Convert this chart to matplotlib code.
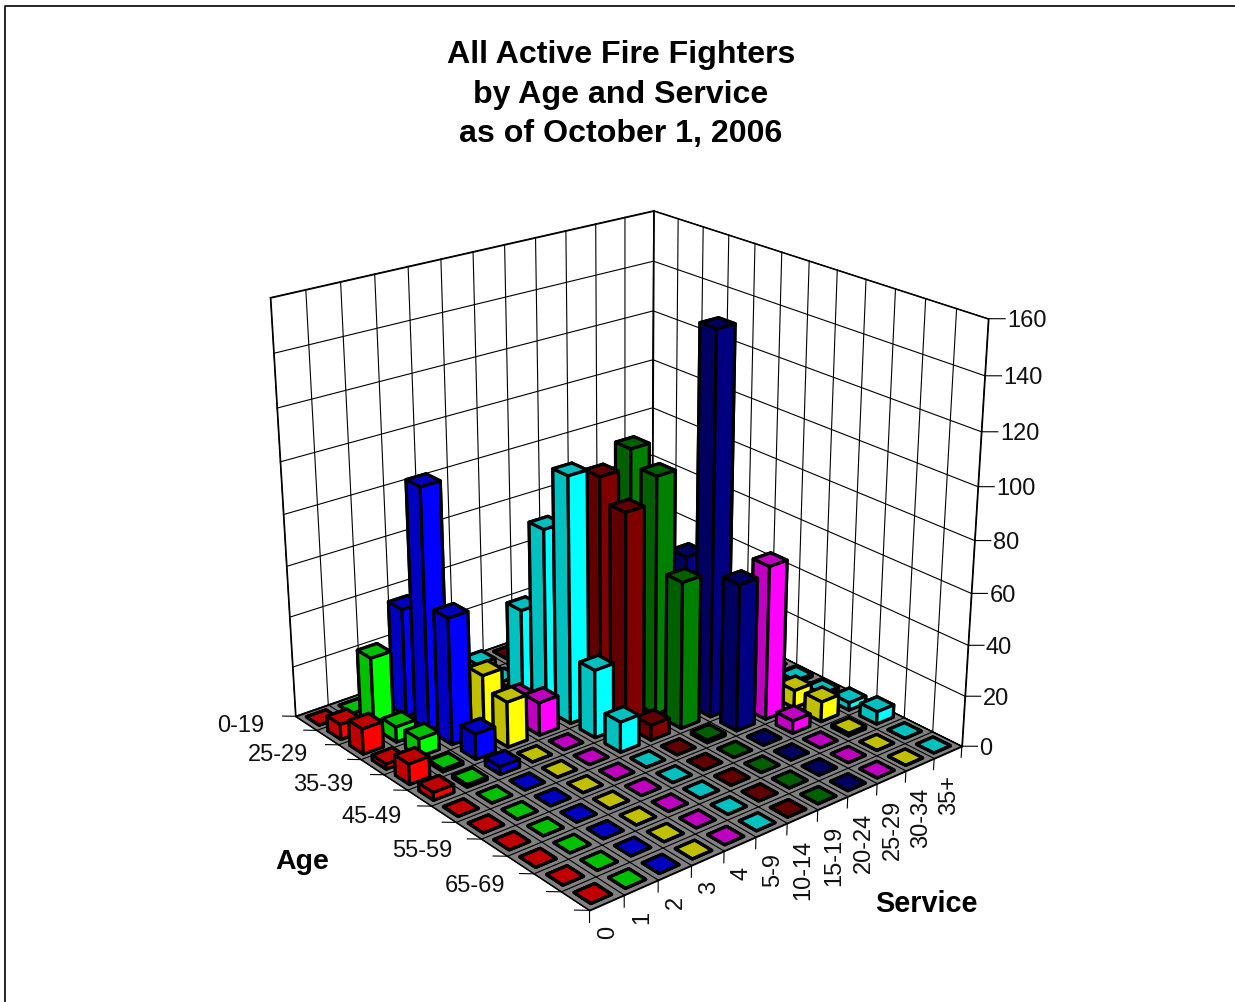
import numpy as np
import matplotlib
matplotlib.use('Agg')
import matplotlib.pyplot as plt
from mpl_toolkits.mplot3d import proj3d
from mpl_toolkits.mplot3d.art3d import Poly3DCollection

plt.rcParams['font.family'] = ['Liberation Sans', 'DejaVu Sans']

title_lines = ['All Active Fire Fighters', 'by Age and Service', 'as of October 1, 2006']
service_labels = ['0', '1', '2', '3', '4', '5-9', '10-14', '15-19', '20-24', '25-29', '30-34', '35+']
age_labels = ['0-19', '', '25-29', '', '35-39', '', '45-49', '', '55-59', '', '65-69', '']
z_ticks = [0, 20, 40, 60, 80, 100, 120, 140, 160]

age_0_19 = [0, 0, 0, 0, 0, 2, 0, 0, 0, 0, 0, 0]
age_20_24 = [6, 28, 43, 0, 0, 0, 0, 0, 0, 0, 0, 0]
age_25_29 = [10, 6, 95, 3, 5, 35, 0, 0, 0, 0, 0, 0]
age_30_34 = [2, 7, 50, 23, 9, 72, 0, 0, 0, 0, 0, 0]
age_35_39 = [8, 1, 10, 18, 13, 97, 93, 100, 0, 0, 0, 0]
age_40_44 = [3, 1, 3, 0, 0, 27, 84, 94, 59, 0, 0, 0]
age_45_49 = [0, 0, 0, 0, 0, 12, 6, 58, 149, 0, 0, 1]
age_50_54 = [0, 0, 0, 0, 0, 0, 0, 1, 58, 61, 7, 1]
age_55_59 = [0, 0, 0, 0, 0, 0, 0, 0, 0, 5, 8, 3]
age_60_64 = [0, 0, 0, 0, 0, 0, 0, 0, 0, 0, 1, 5]
age_65_69 = [0] * 12
age_70_up = [0] * 12
rows = [age_0_19, age_20_24, age_25_29, age_30_34, age_35_39, age_40_44,
        age_45_49, age_50_54, age_55_59, age_60_64, age_65_69, age_70_up]

bright = ['#FF0000', '#00FF00', '#0000FF', '#FFFF00', '#FF00FF', '#00FFFF',
          '#800000', '#008000', '#000080', '#FF00FF', '#FFFF00', '#00FFFF']
dark = ['#C00000', '#00C000', '#0000C0', '#C0C000', '#C000C0', '#00C0C0',
        '#600000', '#006000', '#000060', '#C000C0', '#C0C000', '#00C0C0']

W, H = 1235, 1002
L, Bimg, S = 209.66, 942.37, 808.08
PX = S / 0.185

fig = plt.figure(figsize=(W/100, H/100), dpi=100)
ax = fig.add_axes([L/W, (H-Bimg)/H, S/W, S/H], projection='3d', computed_zorder=False)
ax.view_init(elev=23.0673, azim=-129.6362, roll=0)
ax.set_proj_type('persp', focal_length=0.5519)
ax.set_box_aspect((1.0671, 1.071, 1))


def set_limits():
    ax.set_xlim(0, 12, view_margin=0)
    ax.set_ylim(0, 12, view_margin=0)
    ax.set_zlim(0, 160, view_margin=0)


set_limits()
M = ax.get_proj()


def label(x, y, z, text, dx=0, dy=0, **kw):
    u, v, _ = proj3d.proj_transform(x, y, z, M)
    ax.text2D(u + dx/PX, v + dy/PX, text, transform=ax.transData, zorder=500, fontsize=17, color='#111111', **kw)


wall = dict(facecolor='white', edgecolor='black', linewidth=1.0, zorder=1)
ax.add_collection3d(Poly3DCollection([[(0,12,0),(12,12,0),(12,12,160),(0,12,160)]], **wall))
ax.add_collection3d(Poly3DCollection([[(12,0,0),(12,12,0),(12,12,160),(12,0,160)]], **wall))
ax.add_collection3d(Poly3DCollection([[(0,0,0),(12,0,0),(12,12,0),(0,12,0)]],
                                     facecolor='#808080', edgecolor='black', linewidth=1.0, zorder=2))
line = dict(color='black', lw=0.8, zorder=3)
for i in range(13):
    ax.plot([i, i], [12, 12], [0, 160], **line)
    ax.plot([12, 12], [i, i], [0, 160], **line)
    ax.plot([i, i], [0, 12], [0, 0], **line)
    ax.plot([0, 12], [i, i], [0, 0], **line)
    ax.plot([i, i], [0, 0], [0, -4.5], **line)
    ax.plot([0, -0.25], [i, i+0.22], [0, 0], **line)
for z in z_ticks:
    ax.plot([0, 12], [12, 12], [z, z], **line)
    ax.plot([12, 12], [0, 12], [z, z], **line)
    ax.plot([12, 12.3], [0, -0.25], [z, z], **line)
    label(12.3, -0.25, z, str(z), dx=2, dy=-2.5, ha='left', va='center')
for i, t in enumerate(service_labels):
    label(i+0.5, 0, 0, t, dx=1, dy=-23, rotation=90, ha='center', va='top')
for i, t in enumerate(age_labels):
    label(0, 11.5-i, 0, t, dx=-42, dy=-3, ha='right', va='center')

order = sorted(((c, 11-r) for r in range(12) for c in range(12)), key=lambda t: -(t[0]+t[1]))
zo = 10
for c, y in order:
    val = rows[11-y][c]
    col = [dark[c], dark[c], bright[c], bright[c], dark[c], dark[c]]
    poly = ax.bar3d(c+0.2, y+0.2, 0, 0.6, 0.6, val, color=col, edgecolor='black', linewidth=2.3, shade=False)
    poly.set_zorder(zo)
    zo += 1
set_limits()
ax.set_axis_off()

for t, yp in zip(title_lines, [55, 95, 134]):
    fig.text(621/W, 1-yp/H, t, ha='center', va='center', fontsize=23.1, fontweight='bold')
fig.text(302/W, 1-862/H, 'Age', ha='center', va='center', fontsize=20.5, fontweight='bold')
fig.text(926/W, 1-904/H, 'Service', ha='center', va='center', fontsize=20.8, fontweight='bold')
fig.add_artist(plt.Line2D([5/W, 5/W, 1], [0, 1-6/H, 1-6/H], color='black', lw=1.2))
fig.savefig('out.png', dpi=100)
